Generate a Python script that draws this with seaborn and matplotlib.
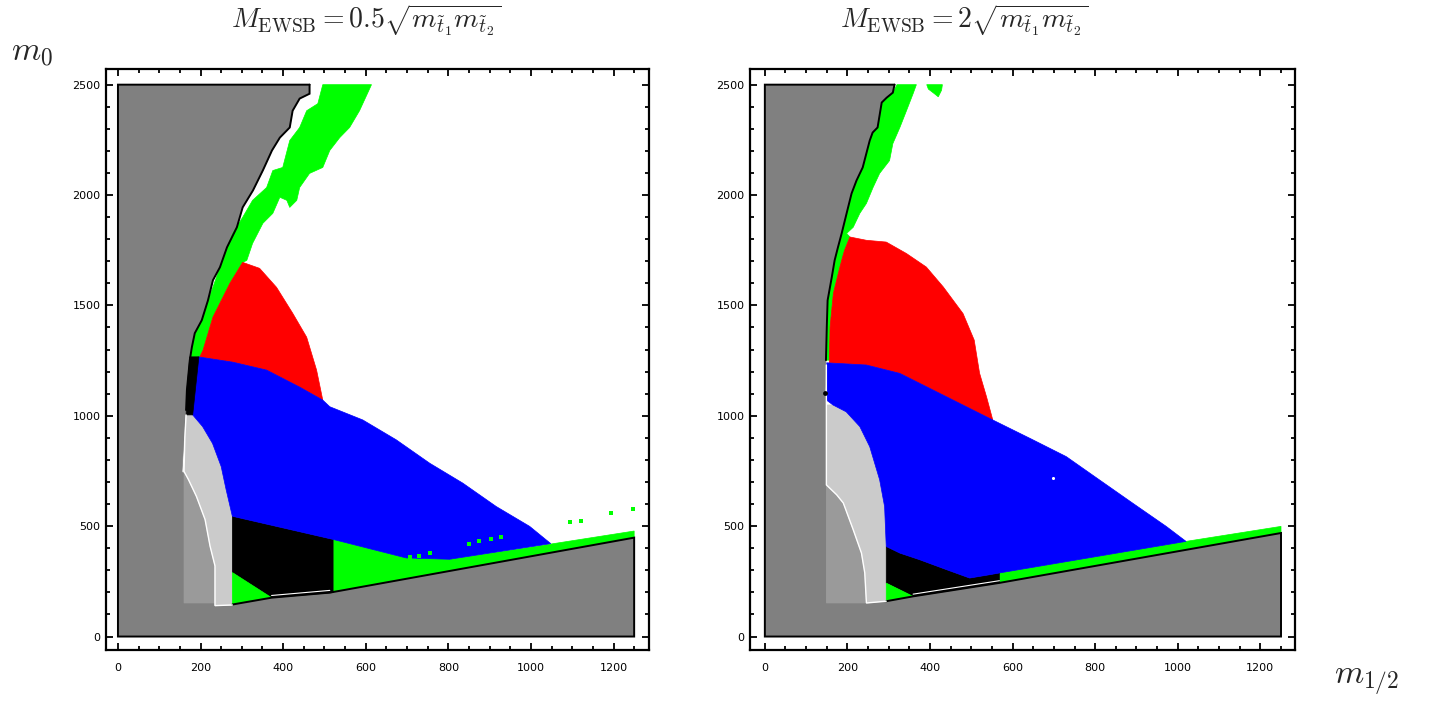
import matplotlib
matplotlib.use("Agg")
import matplotlib.pyplot as plt
import seaborn as sns
from matplotlib.ticker import MultipleLocator

# colours of the regions
GRAY = "#808080"
MID_GRAY = "#9a9a9a"
LIGHT_GRAY = "#cbcbcb"
GREEN = "#00ff00"
RED = "#ff0000"
BLUE = "#0000ff"

titles = [r"$M_{\rm EWSB}=0.5\sqrt{m_{\tilde t_1}m_{\tilde t_2}}$",
          r"$M_{\rm EWSB}=2\sqrt{m_{\tilde t_1}m_{\tilde t_2}}$"]

# ---------------- left panel (M_EWSB = 0.5 sqrt(m1 m2)) ----------------
l_gray_edge = [(464, 2500), (464, 2459), (440, 2437), (423, 2382), (416, 2306), (392, 2260),
               (373, 2202), (351, 2112), (327, 2021), (302, 1944), (288, 1854), (264, 1763),
               (247, 1673), (230, 1614), (218, 1523), (203, 1433), (186, 1374), (179, 1311),
               (174, 1252), (167, 1117), (165, 1026)]
l_gray_rest = [(164, 995), (160, 891), (155, 746), (160, 740), (160, 152), (235, 152), (235, 138),
               (277, 143), (372, 176), (513, 199), (1250, 448), (1250, 0), (0, 0), (0, 2500)]
l_mid_gray = [(160, 152), (235, 152), (235, 320), (223, 410), (211, 530), (190, 635), (171, 710),
              (160, 748)]
l_light_gray = [(160, 748), (171, 710), (190, 635), (211, 530), (223, 410), (235, 320), (235, 140),
                (277, 143), (277, 545), (262, 665), (250, 770), (229, 875), (205, 951), (181, 1004),
                (165, 1004), (162, 900)]
l_green_band = [(614, 2500), (585, 2382), (561, 2306), (537, 2260), (513, 2202), (496, 2125),
                (464, 2098), (440, 2034), (433, 1976), (416, 1944), (409, 1976), (392, 1990),
                (375, 1917), (351, 1872), (326, 1781), (312, 1704), (302, 1695), (271, 1600),
                (230, 1447), (206, 1297), (198, 1266), (176, 1266), (179, 1311), (186, 1374),
                (203, 1433), (218, 1523), (230, 1582), (247, 1673), (264, 1763), (278, 1826),
                (302, 1899), (326, 1976), (360, 2034), (375, 2111), (399, 2125), (416, 2247),
                (440, 2306), (457, 2382), (484, 2414), (496, 2500)]
l_red = [(198, 1266), (206, 1297), (230, 1447), (271, 1600), (302, 1695), (343, 1668), (384, 1582),
         (423, 1465), (457, 1356), (481, 1207), (496, 1071), (440, 1130), (360, 1207), (278, 1243)]
l_green_low = [(521, 440), (698, 356), (803, 350), (1045, 418), (1250, 478), (1250, 448),
               (513, 199), (521, 199)]
l_black_low = [(277, 545), (521, 440), (521, 199), (372, 176), (277, 290)]
l_green_tri = [(277, 290), (372, 176), (277, 145)]
l_blue = [(194, 1267), (278, 1243), (360, 1207), (440, 1130), (496, 1071), (513, 1041), (593, 981),
          (674, 891), (755, 785), (835, 695), (916, 589), (997, 499), (1048, 421), (803, 350),
          (698, 356), (521, 440), (277, 545), (262, 665), (250, 770), (229, 875), (205, 951),
          (181, 1004), (179, 1026)]
l_black_strip = [(174, 1267), (196, 1267), (181, 1004), (165, 1004), (167, 1117)]
l_dots_x = [706, 730, 755, 851, 875, 904, 928, 1095, 1121, 1194, 1246]
l_dots_y = [360, 366, 378, 420, 431, 441, 450, 521, 524, 559, 578]
l_outline = [(464, 2500), (0, 2500), (0, 0), (1250, 0), (1250, 448), (513, 199), (372, 176),
             (277, 145)]
l_white_line = [(165, 1004), (162, 900), (160, 748), (171, 710), (190, 635), (211, 530), (223, 410),
                (235, 320), (235, 140), (277, 143)]
l_white_seam = [(372, 186), (513, 209)]

# ---------------- right panel (M_EWSB = 2 sqrt(m1 m2)) ----------------
r_gray_edge = [(314, 2500), (310, 2464), (295, 2441), (283, 2419), (273, 2306), (261, 2283),
               (254, 2247), (237, 2125), (222, 2066), (210, 2007), (198, 1917), (186, 1826),
               (177, 1763), (169, 1704), (162, 1627), (152, 1523), (150, 1403), (148, 1252)]
r_gray_rest = [(146, 1103), (149, 1079), (149, 687), (149, 152), (246, 152), (294, 160), (359, 182),
               (568, 243), (1250, 469), (1250, 0), (0, 0), (0, 2500)]
r_mid_gray = [(149, 152), (246, 152), (242, 288), (234, 378), (214, 484), (190, 605), (174, 642),
              (149, 687)]
r_light_gray = [(149, 687), (174, 642), (190, 605), (214, 484), (234, 378), (242, 288), (246, 152),
                (294, 160), (294, 408), (290, 589), (278, 710), (254, 860), (230, 951), (197, 1018),
                (165, 1049), (149, 1049)]
r_green_band = [(367, 2500), (359, 2459), (343, 2382), (327, 2306), (310, 2233), (302, 2156),
                (278, 2098), (262, 2034), (246, 1962), (230, 1917), (214, 1854), (198, 1826),
                (206, 1810), (193, 1750), (186, 1704), (178, 1646), (166, 1555), (158, 1403),
                (156, 1252), (148, 1252), (150, 1403), (152, 1523), (162, 1627), (169, 1704),
                (177, 1763), (186, 1826), (198, 1917), (210, 2007), (222, 2066), (237, 2125),
                (254, 2247), (261, 2283), (273, 2306), (283, 2419), (295, 2441), (310, 2464),
                (320, 2500)]
r_green_blob = [(392, 2500), (430, 2500), (428, 2475), (420, 2445), (410, 2460), (396, 2480)]
r_red = [(156, 1240), (158, 1403), (166, 1555), (178, 1646), (186, 1704), (193, 1750), (206, 1810),
         (246, 1795), (294, 1787), (343, 1735), (391, 1674), (432, 1584), (480, 1463), (507, 1343),
         (520, 1193), (537, 1085), (552, 981), (488, 1041), (407, 1117), (327, 1192), (246, 1230)]
r_green_low = [(568, 288), (1020, 431), (1250, 499), (1250, 469), (568, 243)]
r_black_low = [(294, 408), (327, 378), (375, 348), (440, 303), (496, 265), (544, 280), (568, 288),
               (568, 243), (359, 182), (294, 242)]
r_green_tri = [(294, 242), (359, 182), (294, 160)]
r_blue = [(150, 1240), (246, 1230), (327, 1192), (407, 1117), (488, 1041), (552, 981), (645, 895),
          (730, 815), (810, 710), (891, 604), (972, 499), (1020, 431), (568, 288), (544, 280),
          (496, 265), (440, 303), (375, 348), (327, 378), (294, 408), (290, 589), (278, 710),
          (254, 860), (230, 951), (197, 1018), (165, 1049), (150, 1070)]
r_outline = [(314, 2500), (0, 2500), (0, 0), (1250, 0), (1250, 469), (568, 243), (359, 182),
             (294, 160)]
r_white_line = [(149, 1230), (149, 1049), (149, 687), (174, 642), (190, 605), (214, 484),
                (234, 378), (242, 288), (246, 152), (294, 160)]
r_white_seam = [(359, 192), (568, 253)]
r_black_dot = (146, 1103)
r_white_dot = (697, 717)


def fill(ax, pts, color):
    x, y = zip(*pts)
    ax.fill(x, y, facecolor=color, edgecolor=color, lw=0.5, zorder=2)


def line(ax, pts, color, lw=1.4):
    x, y = zip(*pts)
    ax.plot(x, y, color=color, lw=lw, solid_joinstyle="miter", zorder=4)


sns.set_style("ticks")
plt.rcParams["mathtext.fontset"] = "cm"
plt.rcParams["font.family"] = ["Liberation Sans Narrow", "DejaVu Sans"]

fig = plt.figure(figsize=(14.34, 7.04), dpi=100)
ax_l = fig.add_axes([0.0739, 0.0767, 0.3787, 0.8253])
ax_r = fig.add_axes([0.5230, 0.0767, 0.3801, 0.8253])

# left panel
fill(ax_l, l_gray_edge + l_gray_rest, GRAY)
fill(ax_l, l_mid_gray, MID_GRAY)
fill(ax_l, l_light_gray, LIGHT_GRAY)
fill(ax_l, l_green_band, GREEN)
fill(ax_l, l_red, RED)
fill(ax_l, l_green_low, GREEN)
fill(ax_l, l_black_low, "black")
fill(ax_l, l_green_tri, GREEN)
fill(ax_l, l_blue, BLUE)
fill(ax_l, l_black_strip, "black")
sns.scatterplot(x=l_dots_x, y=l_dots_y, ax=ax_l, color=GREEN, marker="s", s=7,
                linewidth=0, zorder=3)
line(ax_l, l_outline, "black")
line(ax_l, l_gray_edge, "black")
line(ax_l, l_white_line, "white", lw=1.0)
line(ax_l, l_white_seam, "white", lw=0.8)

# right panel
fill(ax_r, r_gray_edge + r_gray_rest, GRAY)
fill(ax_r, r_mid_gray, MID_GRAY)
fill(ax_r, r_light_gray, LIGHT_GRAY)
fill(ax_r, r_green_band, GREEN)
fill(ax_r, r_green_blob, GREEN)
fill(ax_r, r_red, RED)
fill(ax_r, r_green_low, GREEN)
fill(ax_r, r_black_low, "black")
fill(ax_r, r_green_tri, GREEN)
fill(ax_r, r_blue, BLUE)
line(ax_r, r_outline, "black")
line(ax_r, r_gray_edge, "black")
line(ax_r, r_white_line, "white", lw=1.0)
line(ax_r, r_white_seam, "white", lw=0.8)
sns.scatterplot(x=[r_black_dot[0]], y=[r_black_dot[1]], ax=ax_r, color="black", s=12,
                linewidth=0, zorder=5)
sns.scatterplot(x=[r_white_dot[0]], y=[r_white_dot[1]], ax=ax_r, color="white", s=5,
                linewidth=0, zorder=5)

for ax, xlim in [(ax_l, (-29, 1286)), (ax_r, (-36, 1284))]:
    ax.set_xlim(*xlim)
    ax.set_ylim(-61, 2571)
    ax.xaxis.set_major_locator(MultipleLocator(200))
    ax.xaxis.set_minor_locator(MultipleLocator(50))
    ax.yaxis.set_major_locator(MultipleLocator(500))
    ax.yaxis.set_minor_locator(MultipleLocator(100))
    ax.tick_params(which="both", direction="in", top=True, right=True, width=1.3,
                   color="black", labelcolor="black", labelsize=8)
    ax.tick_params(which="major", length=5)
    ax.tick_params(which="minor", length=3)
    ax.tick_params(axis="x", pad=9)
    ax.tick_params(axis="y", pad=4)
    for s in ax.spines.values():
        s.set_linewidth(1.6)
        s.set_color("black")
    ax.set_xlabel("")
    ax.set_ylabel("")

fig.text(366 / 1434, 1 - 20 / 704, titles[0], fontsize=20, ha="center", va="center")
fig.text(964 / 1434, 1 - 20 / 704, titles[1], fontsize=20, ha="center", va="center")
fig.text(32 / 1434, 1 - 52 / 704, r"$m_0$", fontsize=24, ha="center", va="center")
fig.text(1367 / 1434, 1 - 682 / 704, r"$m_{1/2}$", fontsize=24, ha="center", va="center")

fig.savefig("out.png", dpi=100)
